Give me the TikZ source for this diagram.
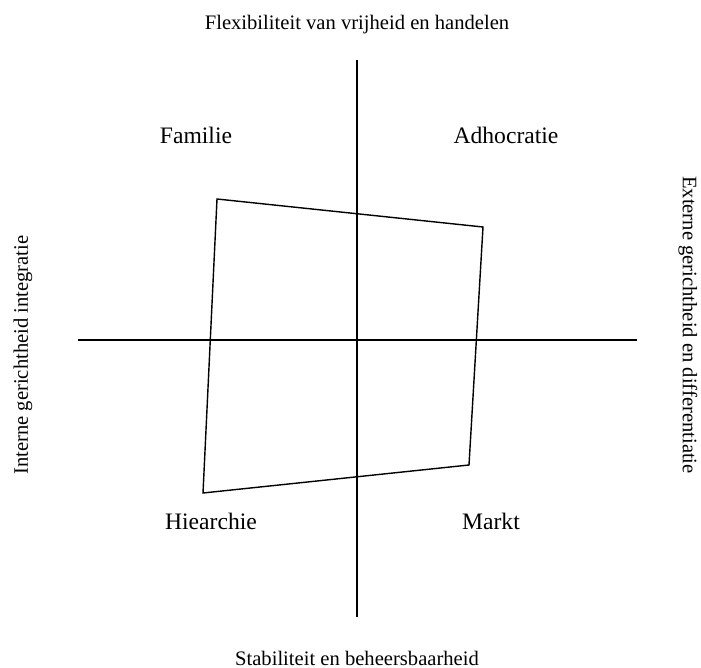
\documentclass[tikz,border=0pt]{standalone}
\usepackage{fontspec}
\setmainfont{Liberation Serif}
\usetikzlibrary{positioning}

\begin{document}
\begin{tikzpicture}[
        x=0.5pt, y=-0.5pt,
        axlab/.style={font=\fontsize{10.3}{12}\selectfont, inner sep=0pt},
        qlab/.style={font=\fontsize{11.8}{14}\selectfont, inner sep=0pt, anchor=base},
        axis/.style={line width=0.6pt},
        profiel/.style={line width=0.7pt, line join=miter}
      ]
        \useasboundingbox (0,0) rectangle (701,668);
        % axes
        \coordinate (n) at (357,60);
        \coordinate (s) at (357,617);
        \coordinate (w) at (78,340);
        \coordinate (e) at (637,340);
        \draw[axis] (n) -- (s);
        \draw[axis] (w) -- (e);
        % axis labels
        \node[axlab, anchor=base] (flex) at (357,30) {Flexibiliteit van vrijheid en handelen};
        \node[axlab, anchor=base] (stab) at (357,665) {Stabiliteit en beheersbaarheid};
        \node[axlab, rotate=90] (intern) at (23,355) {Interne gerichtheid integratie};
        \node[axlab, rotate=-90] (extern) at (688,325) {Externe gerichtheid en differentiatie};
        % quadrants
        \node[qlab] (fam) at (196,144) {Familie};
        \node[qlab] (adho) at (506,144) {Adhocratie};
        \node[qlab] (hier) at (211,529) {Hiearchie};
        \node[qlab] (markt) at (491,529) {Markt};
        % profile
        \coordinate (p1) at (217,199);
        \coordinate (p2) at (483,227);
        \coordinate (p3) at (469,465);
        \coordinate (p4) at (203,493);
        \draw[profiel] (p1) -- (p2) -- (p3) -- (p4) -- cycle;
      \end{tikzpicture}
\end{document}
